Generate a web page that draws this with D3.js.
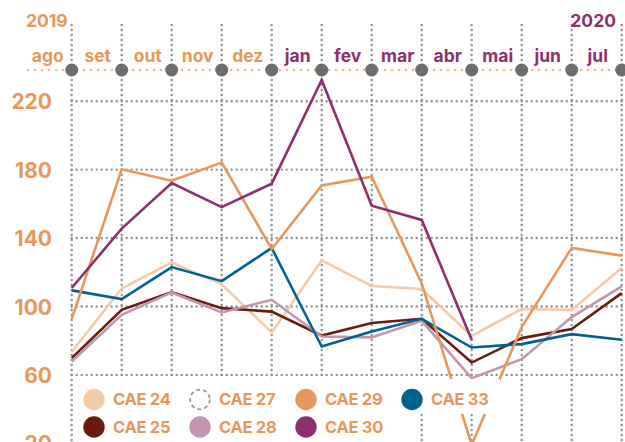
<!DOCTYPE html>
<html>
<head>
<meta charset="utf-8">
<script src="https://cdn.jsdelivr.net/npm/d3@7"></script>
<style>
  body { margin: 0; background: #fff; }
  text { font-family: Inter, "Open Sans", sans-serif; font-weight: 700; }
</style>
</head>
<body>
<div id="chart"></div>
<script>
// CAE index lines, ago/2019 - jul/2020
const months = ["ago", "set", "out", "nov", "dez", "jan", "fev", "mar", "abr", "mai", "jun", "jul"];
const yTicks = [20, 60, 100, 140, 180, 220];

const cae24 = [73.5, 110.5, 125.8, 113, 84.8, 126.9, 112, 110.2, 82.8, 98.5, 98, 122.5];
const cae25 = [69.8, 98, 108.4, 99, 97, 83, 90.3, 92.8, 67.2, 81.5, 86.8, 107.8];
const cae28 = [67.8, 95.1, 108.2, 96.5, 103.9, 82.4, 81.9, 91.6, 58, 69.2, 93.8, 111.7];
const cae29 = [92.6, 180.2, 173.5, 184.1, 133.6, 170.7, 175.8, 113.5, 19, 88, 134.2, 129.7];
const cae30 = [110.8, 145.5, 172.2, 158.1, 171.8, 232.4, 158.9, 150.6, 80.5, null, null, null];
const cae33 = [109.4, 104.3, 123, 114.8, 134.2, 76.6, 85.4, 92.8, 76, 78, 83.8, 80.5];

const orange = "#e8975a";
const purple = "#8e2f6e";

const series = [
  {name: "CAE 24", color: "#f3cba8", values: cae24},
  {name: "CAE 25", color: "#6a1b10", values: cae25},
  {name: "CAE 28", color: "#c295b1", values: cae28},
  {name: "CAE 33", color: "#00628f", values: cae33},
  {name: "CAE 29", color: orange, values: cae29},
  {name: "CAE 30", color: purple, values: cae30}
];

const legendItems = [
  {name: "CAE 24", color: "#f3cba8", row: 0, col: 0},
  {name: "CAE 27", color: null, row: 0, col: 1},
  {name: "CAE 29", color: orange, row: 0, col: 2},
  {name: "CAE 33", color: "#00628f", row: 0, col: 3},
  {name: "CAE 25", color: "#6a1b10", row: 1, col: 0},
  {name: "CAE 28", color: "#c295b1", row: 1, col: 1},
  {name: "CAE 30", color: purple, row: 1, col: 2}
];

const width = 625, height = 442;

const svg = d3.select("#chart")
  .append("svg")
  .attr("width", width)
  .attr("height", height);

const x = d3.scalePoint()
  .domain(months)
  .range([71.7, 621.7]);

const y = d3.scaleLinear()
  .domain([20, 220])
  .range([443.3, 101.2]);

// grid
const grid = svg.append("g");

grid.selectAll(".hgrid")
  .data(yTicks)
  .enter()
  .append("line")
  .attr("x1", 71.7)
  .attr("x2", width)
  .attr("y1", d => y(d))
  .attr("y2", d => y(d))
  .attr("stroke", "#8f8f8f")
  .attr("stroke-width", 2.4)
  .attr("stroke-linecap", "round")
  .attr("stroke-dasharray", "0,5");

grid.selectAll(".vgrid")
  .data(months)
  .enter()
  .append("line")
  .attr("x1", d => x(d))
  .attr("x2", d => x(d))
  .attr("y1", 25)
  .attr("y2", height)
  .attr("stroke", "#8f8f8f")
  .attr("stroke-width", 2.4)
  .attr("stroke-linecap", "round")
  .attr("stroke-dasharray", "0,5");

// timeline on top
svg.append("line")
  .attr("x1", 28)
  .attr("x2", width)
  .attr("y1", 70)
  .attr("y2", 70)
  .attr("stroke", "#f2b582")
  .attr("stroke-width", 2.6)
  .attr("stroke-linecap", "round")
  .attr("stroke-dasharray", "0,7");

svg.selectAll(".tdot")
  .data(months)
  .enter()
  .append("circle")
  .attr("cx", d => x(d))
  .attr("cy", 70)
  .attr("r", 6.5)
  .attr("fill", "#6d6d6d");

// month labels sit left of their point
const xAxis = svg.append("g")
  .attr("transform", "translate(-24.5,62)")
  .call(d3.axisTop(x).tickSize(0).tickPadding(0));
xAxis.select(".domain").remove();
xAxis.selectAll("text")
  .attr("fill", (d, i) => i < 5 ? orange : purple)
  .style("font-size", "17.5px")
  .style("font-family", "Inter, sans-serif")
  .style("font-weight", 700)
  .attr("dy", 0);

svg.append("text")
  .attr("x", 26)
  .attr("y", 26.5)
  .text("2019")
  .attr("fill", orange)
  .style("font-size", "17.5px");

svg.append("text")
  .attr("x", 616)
  .attr("y", 26.5)
  .attr("text-anchor", "end")
  .text("2020")
  .attr("fill", purple)
  .style("font-size", "17.5px");

// y labels
const yAxis = svg.append("g")
  .attr("transform", "translate(52,0)")
  .call(d3.axisLeft(y).tickValues(yTicks).tickSize(0).tickPadding(0));
yAxis.select(".domain").remove();
yAxis.selectAll("text")
  .attr("fill", orange)
  .attr("dy", "0.36em")
  .style("font-size", "21px")
  .style("font-family", "Inter, sans-serif")
  .style("font-weight", 700);

// lines
const line = d3.line()
  .defined(d => d != null)
  .x((d, i) => x(months[i]))
  .y(d => y(d));

svg.selectAll(".series")
  .data(series)
  .enter()
  .append("path")
  .attr("d", d => line(d.values))
  .attr("fill", "none")
  .attr("stroke", d => d.color)
  .attr("stroke-width", 2.6)
  .attr("stroke-linejoin", "miter");

// legend, with white backing
svg.append("rect")
  .attr("x", 74).attr("y", 379)
  .attr("width", 426).attr("height", 35)
  .attr("fill", "#fff");
svg.append("rect")
  .attr("x", 74).attr("y", 414)
  .attr("width", 345).attr("height", 28)
  .attr("fill", "#fff");

const legend = svg.selectAll(".legend")
  .data(legendItems)
  .enter()
  .append("g")
  .attr("transform", d => `translate(${94 + d.col * 106},${399.5 + d.row * 27.5})`);

legend.append("circle")
  .attr("r", d => d.color ? 10.7 : 9.8)
  .attr("fill", d => d.color || "none")
  .attr("stroke", d => d.color ? "none" : "#999")
  .attr("stroke-width", 1.8)
  .attr("stroke-dasharray", d => d.color ? null : "4,3");

legend.append("text")
  .attr("x", 19)
  .attr("dy", "0.36em")
  .text(d => d.name)
  .attr("fill", orange)
  .style("font-size", "16.5px")
  .style("letter-spacing", "-0.3px");
</script>
</body>
</html>
